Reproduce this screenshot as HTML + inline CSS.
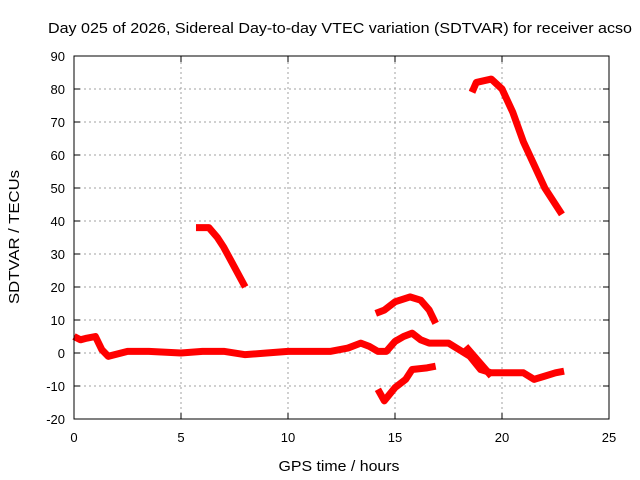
<!DOCTYPE html>
<html><head><meta charset="utf-8"><style>
body{margin:0;background:#fff}
svg{display:block;font-family:"Liberation Sans",sans-serif;font-size:13px}
</style></head><body>
<svg id="chart" width="640" height="480">
<text x="340" y="33" font-size="15" text-anchor="middle" textLength="584" lengthAdjust="spacingAndGlyphs">Day 025 of 2026, Sidereal Day-to-day VTEC variation (SDTVAR) for receiver acso</text>
<g id="grid"></g><g id="series"></g><g id="axes"></g>
<text x="339" y="471" font-size="15" text-anchor="middle" textLength="121" lengthAdjust="spacingAndGlyphs">GPS time / hours</text>
<text transform="translate(19,237) rotate(-90)" font-size="15" text-anchor="middle" textLength="134" lengthAdjust="spacingAndGlyphs">SDTVAR / TECUs</text>
</svg>
<script>
const xTicks=[0,5,10,15,20,25];
const yTicks=[-20,-10,0,10,20,30,40,50,60,70,80,90];
const seg1Hours=[0,0.3,0.6,1.0,1.3,1.6,2.5,3.5,5,6,7,8,9,10,11,12,12.8,13.4,13.8,14.2,14.6,15,15.4,15.8,16.2,16.6,17,17.5,18,18.5,19,19.5,20,20.5,21,21.5,22,22.5,22.9];
const seg1Values=[5,4,4.5,5,1,-1,0.5,0.5,0,0.5,0.5,-0.5,0,0.5,0.5,0.5,1.5,3,2,0.5,0.5,3.5,5,6,4,3,3,3,1,-1,-5,-6,-6,-6,-6,-8,-7,-6,-5.5];
const seg1bHours=[18.3,18.7,19.1,19.5];
const seg1bValues=[2,-1,-4,-7];
const seg2Hours=[5.7,6.3,6.7,7,7.5,8.0];
const seg2Values=[38,38,35,32,26,20];
const seg3Hours=[14.1,14.5,15,15.7,16.2,16.6,16.9];
const seg3Values=[12,13,15.5,17,16,13,9];
const seg4Hours=[14.2,14.5,15,15.5,15.8,16.5,16.9];
const seg4Values=[-11,-14.5,-10.5,-8,-5,-4.5,-4];
const seg5Hours=[18.6,18.8,19.5,20,20.5,21,21.5,22,22.5,22.8];
const seg5Values=[79,82,83,80,73,64,57,50,45,42];
const X0=74,X1=609,Y0=419,Y1=56;
const sx=v=>X0+(v-0)/(25-0)*(X1-X0);
const sy=v=>Y0-(v+20)/(110)*(Y0-Y1);
const NS='http://www.w3.org/2000/svg';
const mk=(t,a,p)=>{const e=document.createElementNS(NS,t);for(const k in a)e.setAttribute(k,a[k]);p.appendChild(e);return e;};
const grid=document.getElementById('grid'),axes=document.getElementById('axes'),series=document.getElementById('series');
xTicks.forEach(t=>{
 if(t>0&&t<25){const l=mk('line',{x1:sx(t),x2:sx(t),y1:Y0,y2:Y1,stroke:'#a0a0a0','stroke-dasharray':'2,3'},grid);
 
 }
 const tx=mk('text',{x:sx(t),y:Y0+23,'text-anchor':'middle'},axes);tx.textContent=t;
 
 
 mk('line',{x1:sx(t),x2:sx(t),y1:Y0,y2:Y0-6,stroke:'#000'},axes);
 mk('line',{x1:sx(t),x2:sx(t),y1:Y1,y2:Y1+6,stroke:'#000'},axes);
});
yTicks.forEach(t=>{
 if(t>-20&&t<90){const l=mk('line',{x1:X0,x2:X1,y1:sy(t),y2:sy(t),stroke:'#a0a0a0','stroke-dasharray':'2,3'},grid);
 
 }
 const tx=mk('text',{x:X0-9,y:sy(t)+5,'text-anchor':'end'},axes);tx.textContent=t;
 
 
 mk('line',{x1:X0,x2:X0+6,y1:sy(t),y2:sy(t),stroke:'#000'},axes);
 mk('line',{x1:X1,x2:X1-6,y1:sy(t),y2:sy(t),stroke:'#000'},axes);
});
const fr=mk('rect',{x:X0,y:Y1,width:X1-X0,height:Y0-Y1,fill:'none',stroke:'#000'},axes);


[[seg1Hours,seg1Values,'main-band'],[seg1bHours,seg1bValues,'branch-band'],[seg2Hours,seg2Values,'arc-segment-1'],[seg3Hours,seg3Values,'arc-segment-2'],[seg4Hours,seg4Values,'arc-segment-3'],[seg5Hours,seg5Values,'arc-segment-4']].forEach(([h,v,n])=>{
 const p=mk('polyline',{points:h.map((x,i)=>sx(x)+','+sy(v[i])).join(' '),fill:'none',stroke:'#ff0000','stroke-width':7,'stroke-linejoin':'round'},series);
 
 
});
</script>
</body></html>
